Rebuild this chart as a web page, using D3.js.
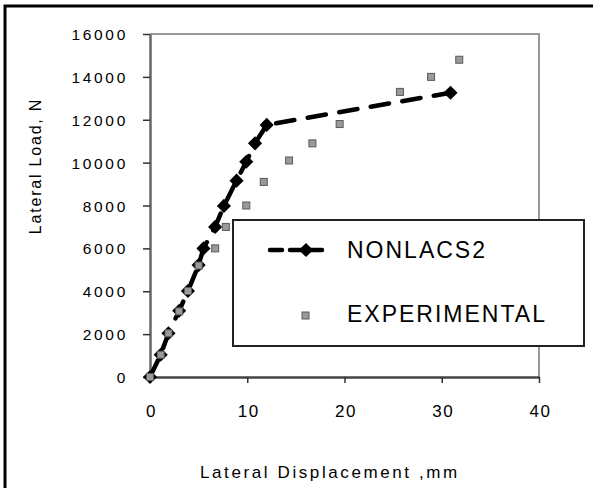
<!DOCTYPE html>
<html>
<head>
<meta charset="utf-8">
<script src="https://cdn.jsdelivr.net/npm/d3@7"></script>
<style>
  body { margin: 0; background: #fff; }
  svg { display: block; font-family: "Liberation Sans", Arial, sans-serif; }
</style>
</head>
<body>
<script>
// lateral load vs displacement
const nonlacsDisp = [0, 1.1, 1.9, 3.0, 3.9, 5.0, 5.5, 6.7, 7.6, 8.9, 9.9, 10.8, 12.0, 30.9];
const nonlacsLoad = [0, 1040, 2040, 3090, 4010, 5220, 6000, 7000, 7980, 9160, 10040, 10900, 11760, 13260];

const expDisp = [0, 1.1, 1.9, 3.0, 3.9, 5.0, 6.7, 7.8, 9.9, 11.7, 14.3, 16.7, 19.5, 25.7, 28.9, 31.8];
const expLoad = [0, 1040, 2040, 3060, 4010, 5200, 6000, 7000, 8000, 9100, 10100, 10900, 11800, 13300, 14000, 14800];

const xTicks = [0, 10, 20, 30, 40];
const yTicks = [0, 2000, 4000, 6000, 8000, 10000, 12000, 14000, 16000];
const seriesNames = ["NONLACS2", "EXPERIMENTAL"];

const W = 593, H = 488;
const plot = { left: 150, right: 539, top: 34, bottom: 377 };

const svg = d3.select("body").append("svg")
  .attr("width", W)
  .attr("height", H);

svg.append("rect")
  .attr("width", W).attr("height", H)
  .attr("fill", "#fff");

// outer frame (only top/left show in the picture)
svg.append("rect")
  .attr("x", 5).attr("y", 6)
  .attr("width", 700).attr("height", 600)
  .attr("fill", "none")
  .attr("stroke", "#000")
  .attr("stroke-width", 3);

const x = d3.scaleLinear().domain([0, 40]).range([plot.left, plot.right]);
const y = d3.scaleLinear().domain([0, 16000]).range([plot.bottom, plot.top]);

// plot border top/right
svg.append("path")
  .attr("d", `M${plot.left},${plot.top}H${plot.right}V${plot.bottom}`)
  .attr("fill", "none")
  .attr("stroke", "#999")
  .attr("stroke-width", 2);

// y axis
const yAxis = svg.append("g")
  .attr("transform", `translate(${plot.left},0)`)
  .call(d3.axisLeft(y).tickValues(yTicks).tickSize(7).tickSizeOuter(0).tickFormat(d3.format("d")));
yAxis.select(".domain").attr("stroke", "#666").attr("stroke-width", 2.5);
yAxis.selectAll(".tick line").attr("stroke", "#333").attr("stroke-width", 1.5);
yAxis.selectAll(".tick text")
  .attr("x", -22)
  .attr("dy", "0.36em")
  .attr("fill", "#000")
  .style("font-size", "15.5px")
  .style("letter-spacing", "2.7px")
  .style("font-family", "'Liberation Sans', Arial, sans-serif");

// x axis
const xAxis = svg.append("g")
  .attr("transform", `translate(0,${plot.bottom})`)
  .call(d3.axisBottom(x).tickValues(xTicks).tickSize(6).tickSizeOuter(0));
xAxis.select(".domain").attr("stroke", "#444").attr("stroke-width", 2.5);
xAxis.selectAll(".tick line").attr("stroke", "#333").attr("stroke-width", 1.5);
xAxis.selectAll(".tick text")
  .attr("y", 0).attr("dy", 0)
  .attr("transform", "translate(1,40)")
  .attr("fill", "#000")
  .style("font-size", "17px")
  .style("letter-spacing", "1.5px")
  .style("font-family", "'Liberation Sans', Arial, sans-serif");

// axis titles
svg.append("text")
  .attr("x", 200).attr("y", 478)
  .style("font-size", "17px")
  .style("letter-spacing", "2.6px")
  .text("Lateral Displacement ,mm");

svg.append("text")
  .attr("transform", "translate(41,166) rotate(-90)")
  .attr("text-anchor", "middle")
  .style("font-size", "16px")
  .style("letter-spacing", "1.8px")
  .text("Lateral Load, N");

// series
const nonlacs = nonlacsDisp.map((d, i) => [d, nonlacsLoad[i]]);
const exper = expDisp.map((d, i) => [d, expLoad[i]]);

const line = d3.line().x(d => x(d[0])).y(d => y(d[1]));

svg.append("path")
  .datum(nonlacs)
  .attr("d", line)
  .attr("fill", "none")
  .attr("stroke", "#000")
  .attr("stroke-width", 4.5)
  .attr("stroke-linecap", "round")
  .attr("stroke-dasharray", "18.5,13.5");

const diamond = d3.symbol().type(d3.symbolSquare).size(100);

svg.append("g").selectAll("path")
  .data(nonlacs)
  .join("path")
  .attr("d", diamond)
  .attr("transform", d => `translate(${x(d[0])},${y(d[1])}) rotate(45)`)
  .attr("fill", "#000");

svg.append("g").selectAll("rect")
  .data(exper)
  .join("rect")
  .attr("x", d => x(d[0]) - 3.5)
  .attr("y", d => y(d[1]) - 3.5)
  .attr("width", 7).attr("height", 7)
  .attr("fill", "#9a9a9a")
  .attr("stroke", "#5a5a5a")
  .attr("stroke-width", 1);

// legend
const lg = svg.append("g");
lg.append("rect")
  .attr("x", 233).attr("y", 220)
  .attr("width", 351).attr("height", 126)
  .attr("fill", "#fff")
  .attr("stroke", "#222")
  .attr("stroke-width", 2);

lg.append("line")
  .attr("x1", 270).attr("x2", 330)
  .attr("y1", 250).attr("y2", 250)
  .attr("stroke", "#000")
  .attr("stroke-width", 4.5)
  .attr("stroke-linecap", "round")
  .attr("stroke-dasharray", "12,8");

lg.append("path")
  .attr("d", diamond)
  .attr("transform", "translate(306,250) rotate(45)")
  .attr("fill", "#000");

lg.append("rect")
  .attr("x", 302).attr("y", 312)
  .attr("width", 7).attr("height", 7)
  .attr("fill", "#9a9a9a")
  .attr("stroke", "#5a5a5a")
  .attr("stroke-width", 1);

lg.selectAll("text.lab")
  .data(seriesNames)
  .join("text")
  .attr("class", "lab")
  .attr("x", 347)
  .attr("y", (d, i) => i === 0 ? 258 : 322)
  .style("font-size", "23px")
  .style("letter-spacing", "2px")
  .text(d => d);
</script>
</body>
</html>
